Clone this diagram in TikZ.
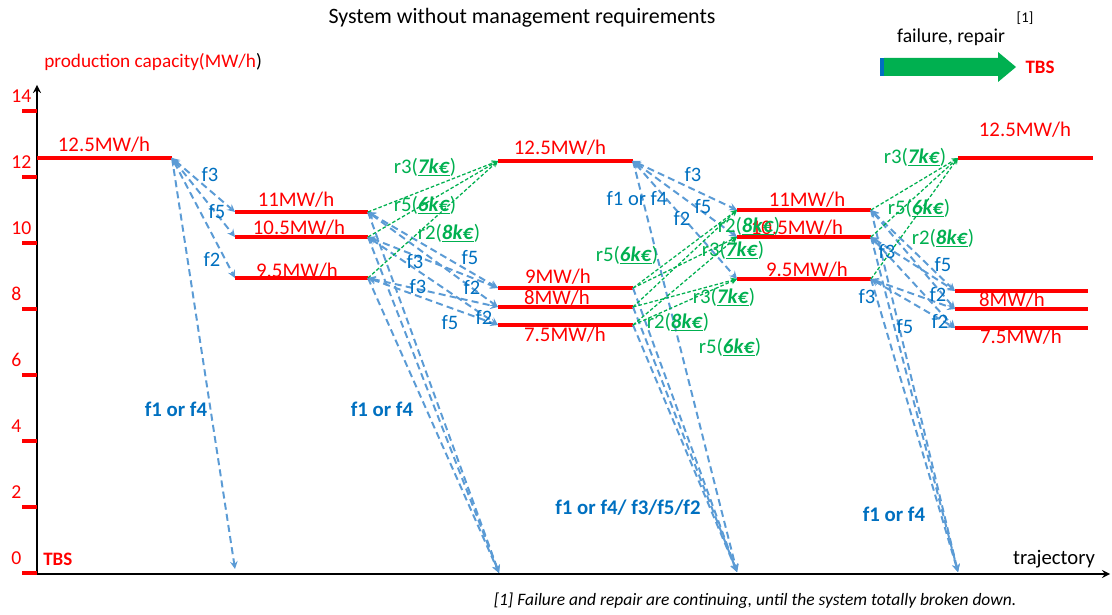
\documentclass[tikz,border=0pt]{standalone}
\usepackage{fontspec}
\setmainfont{Carlito}
\definecolor{capred}{RGB}{255,0,0}
\definecolor{failblue}{RGB}{0,112,192}
\definecolor{arrowblue}{RGB}{91,155,213}
\definecolor{repgreen}{RGB}{0,176,80}
\newcommand{\cost}[1]{\underline{\textbf{\textit{#1}}}}

\begin{document}
\begin{tikzpicture}[>=stealth, x=0.025cm, y=-0.025cm,
  capline/.style={capred, line width=2.2pt},
  ytickbar/.style={capred, line width=3.5pt},
  lvltxt/.style={text=capred, font=\fontsize{14.8}{16}\selectfont, inner sep=0pt},
  fail/.style={arrowblue, line width=1.4pt, dash pattern=on 5pt off 3pt},
  repair/.style={->, repgreen, line width=0.9pt, dash pattern=on 2.5pt off 1.5pt},
  ftxt/.style={text=failblue, font=\fontsize{14.6}{16}\selectfont, inner sep=0pt},
  fbig/.style={text=failblue, font=\fontsize{14.8}{16}\selectfont\bfseries, inner sep=0pt},
  rtxt/.style={text=repgreen, font=\fontsize{14.8}{16}\selectfont, inner sep=0pt}]
  \useasboundingbox (0,0) rectangle (1112,615);
  % Title and legend
  \node[font=\fontsize{15.6}{17}\selectfont, inner sep=0pt] (title) at (522,18)
    {System without management requirements};
  \node[font=\fontsize{14}{16}\selectfont, inner sep=0pt] (legend) at (951,37) {failure, repair};
  \node[font=\fontsize{10.5}{12}\selectfont, inner sep=0pt] (legendref) at (1025,18) {[1]};
  \fill[repgreen] (884,58) -- (998,58) -- (998,52) -- (1016,67) -- (998,82) -- (998,76)
    -- (884,76) -- cycle;
  \fill[failblue] (880,58) rectangle (884,76);
  \node[text=capred, font=\fontsize{13.5}{15}\selectfont\bfseries, inner sep=0pt] (tbstop)
    at (1040,67) {TBS};
  % Axes
  \coordinate (origin) at (37,574);
  \draw[->, line width=1.5pt] (origin) -- (37,85);
  \draw[->, line width=1.5pt] (origin) -- (1110,574);
  \node[anchor=west, font=\fontsize{13.7}{15}\selectfont, inner sep=0pt] (ylabel) at (44,62)
    {\textcolor{capred}{production capacity(MW/h})};
  \node[font=\fontsize{14.7}{16}\selectfont, inner sep=0pt] (xlabel) at (1054,559) {trajectory};
  \node[anchor=west, text=capred, font=\fontsize{13.5}{15}\selectfont\bfseries, inner sep=0pt]
    (tbsbot) at (43,559) {TBS};
  % y ticks: 2 units = 66px
  \foreach \v in {0,2,...,14} {
    \draw[ytickbar] (22,{573-33*\v}) -- (37,{573-33*\v});
    \node[anchor=west, text=capred, font=\fontsize{14}{16}\selectfont, inner sep=0pt]
      (yl\v) at (11,{558-33*\v}) {\v};
  }
  % Capacity levels: name/left x/right x/y
  \foreach \n/\xa/\xb/\yy in {s0hi/37/172/158,
      s1a/235/368/212, s1b/235/368/237, s1c/235/368/278,
      s2hi/498/633/161, s2a/498/633/288, s2b/498/633/307, s2c/498/633/325,
      s3a/737/871/210, s3b/737/871/237, s3c/737/871/279,
      s4hi/958/1093/158, s4a/955/1088/291, s4b/955/1088/309, s4c/955/1088/328} {
    \coordinate (\n-l) at (\xa,\yy);
    \coordinate (\n-r) at (\xb,\yy);
    \draw[capline] (\n-l) -- (\n-r);
  }
  % Totally broken down points on the trajectory
  \coordinate (tbs0) at (235,569);
  \coordinate (tbs1) at (499,573);
  \coordinate (tbs2) at (737,572);
  \coordinate (tbs3) at (958,572);
  % Failures between levels
  \foreach \a/\b in {s0hi/s1a, s0hi/s1b, s0hi/s1c,
      s1a/s2a, s1a/s2b, s1b/s2a, s1b/s2c, s1c/s2b, s1c/s2c,
      s2hi/s3a, s2hi/s3b, s2hi/s3c,
      s3a/s4a, s3a/s4b, s3b/s4a, s3b/s4c, s3c/s4b, s3c/s4c}
    \draw[fail, <->] (\a-r) -- (\b-l);
  % Failures down to TBS
  \foreach \a/\b in {s0hi/tbs0, s1a/tbs1, s1b/tbs1, s1c/tbs1,
      s2hi/tbs2, s2a/tbs2, s2b/tbs2, s2c/tbs2, s3a/tbs3, s3b/tbs3, s3c/tbs3}
    \draw[fail, ->] (\a-r) -- (\b);
  % Repairs
  \foreach \a/\b in {s1a/s2hi, s1b/s2hi, s1c/s2hi,
      s2a/s3a, s2a/s3b, s2b/s3a, s2b/s3c, s2c/s3b, s2c/s3c,
      s3a/s4hi, s3b/s4hi, s3c/s4hi}
    \draw[repair] (\a-r) -- (\b-l);
  % Level labels
  \node[lvltxt] (s0hi-t) at (104,145) {12.5MW/h};
  \node[lvltxt] (s1a-t) at (296,200) {11MW/h};
  \node[lvltxt] (s1b-t) at (299,228) {10.5MW/h};
  \node[lvltxt] (s1c-t) at (297,271) {9.5MW/h};
  \node[lvltxt] (s2hi-t) at (560,148) {12.5MW/h};
  \node[lvltxt] (s2a-t) at (558,277) {9MW/h};
  \node[lvltxt] (s2b-t) at (557,298) {8MW/h};
  \node[lvltxt] (s2c-t) at (565,335) {7.5MW/h};
  \node[lvltxt] (s3a-t) at (807,200) {11MW/h};
  \node[lvltxt] (s3b-t) at (797,228) {10.5MW/h};
  \node[lvltxt] (s3c-t) at (807,270) {9.5MW/h};
  \node[lvltxt] (s4hi-t) at (1025,130) {12.5MW/h};
  \node[lvltxt] (s4b-t) at (1012,300) {8MW/h};
  \node[lvltxt] (s4c-t) at (1021,337) {7.5MW/h};
  % Failure labels
  \node[ftxt] (f3-01) at (210,175) {f3};
  \node[ftxt] (f5-01) at (217,212) {f5};
  \node[ftxt] (f2-01) at (212,259) {f2};
  \node[ftxt] (f3-12a) at (415,262) {f3};
  \node[ftxt] (f5-12a) at (470,258) {f5};
  \node[ftxt] (f2-12a) at (472,287) {f2};
  \node[ftxt] (f3-12b) at (418,287) {f3};
  \node[ftxt] (f5-12b) at (450,323) {f5};
  \node[ftxt] (f2-12b) at (484,317) {f2};
  \node[ftxt] (f3-23) at (693,175) {f3};
  \node[ftxt] (f5-23) at (703,207) {f5};
  \node[ftxt] (f2-23) at (682,218) {f2};
  \node[ftxt] (f14-23) at (637,199) {f1 or f4};
  \node[ftxt] (f5-34a) at (943,265) {f5};
  \node[ftxt] (f3-34a) at (887,252) {f3};
  \node[ftxt] (f2-34a) at (938,294) {f2};
  \node[ftxt] (f3-34b) at (867,297) {f3};
  \node[ftxt] (f2-34b) at (940,321) {f2};
  \node[ftxt] (f5-34b) at (905,327) {f5};
  \node[fbig] (f14-0) at (176,409) {f1 or f4};
  \node[fbig] (f14-1) at (382,409) {f1 or f4};
  \node[fbig] (f14-2) at (628,508) {f1 or f4/ f3/f5/f2};
  \node[fbig] (f14-3) at (894,514) {f1 or f4};
  % Repair labels
  \node[rtxt] (r3-12) at (425,167) {r3(\cost{7k€})};
  \node[rtxt] (r5-12) at (425,205) {r5(\cost{6k€})};
  \node[rtxt] (r2-12) at (449,233) {r2(\cost{8k€})};
  \node[rtxt] (r5-23a) at (627,255) {r5(\cost{6k€})};
  \node[rtxt] (r2-23a) at (749,226) {r2(\cost{8k€})};
  \node[rtxt] (r3-23a) at (733,250) {r3(\cost{7k€})};
  \node[rtxt] (r3-23b) at (724,297) {r3(\cost{7k€})};
  \node[rtxt] (r2-23b) at (678,322) {r2(\cost{8k€})};
  \node[rtxt] (r5-23b) at (730,347) {r5(\cost{6k€})};
  \node[rtxt] (r3-34) at (915,157) {r3(\cost{7k€})};
  \node[rtxt] (r5-34) at (919,208) {r5(\cost{6k€})};
  \node[rtxt] (r2-34) at (943,238) {r2(\cost{8k€})};
  % Footnote
  \node[font=\fontsize{12.4}{14}\selectfont\itshape, inner sep=0pt] (note) at (755,601)
    {[1] Failure and repair are continuing, until the system totally broken down.};
\end{tikzpicture}
\end{document}
